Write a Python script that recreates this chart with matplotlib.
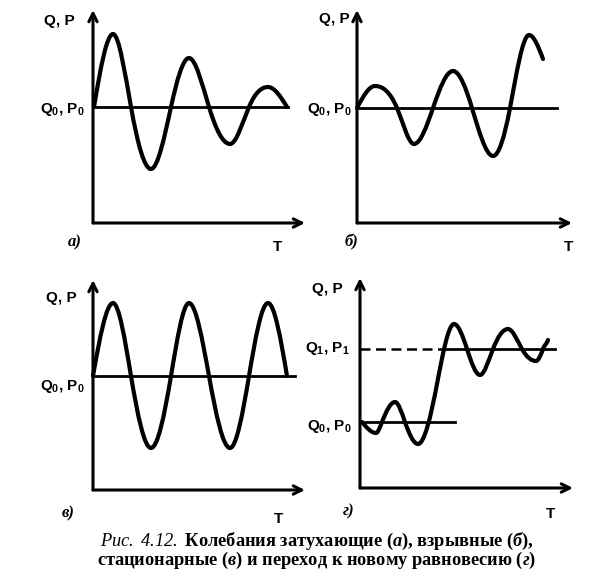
import matplotlib
matplotlib.use("Agg")
import matplotlib.pyplot as plt
import numpy as np
from matplotlib.path import Path
from matplotlib.patches import PathPatch

plt.rcParams['font.family'] = ['Liberation Sans', 'DejaVu Sans']
plt.rcParams['mathtext.fontset'] = 'custom'
plt.rcParams['mathtext.rm'] = 'Liberation Sans:bold'
plt.rcParams['mathtext.it'] = 'Liberation Serif:italic:bold'
plt.rcParams['mathtext.cal'] = 'Liberation Serif:italic'

# опорные точки кривых (экстремумы и пересечения с равновесием), снятые с рисунка
# а) затухающие колебания
t_a = [1, 20, 38, 58, 78, 96, 116, 137, 156, 175, 194]
q_a = [0, 73, 0, -62, 0, 49, 0, -37, 0, 20, 0]
# б) взрывные
t_b = [0, 18, 40, 57, 76, 96, 115, 136, 153, 172, 186]
q_b = [0, 22, 0, -36, 0, 37, 0, -48, 0, 73, 49]
# в) стационарные
t_v = [0, 20, 38, 58, 78, 96, 116, 137, 156, 175, 194]
q_v = [0, 73, 0, -72, 0, 73, 0, -72, 0, 73, 0]
# г) переход к новому равновесию
t_g = [2, 16, 22, 35, 45, 58, 77, 94, 107, 120, 133, 148, 162, 176, 183, 188]
q_g = [0, -11, 0, 20, 0, -22, 38, 98, 73, 47, 73, 93, 73, 61, 73, 82]

q1_level = 73
q0_end_g = 95
q1_dash_end = 83
q1_end = 195
base_end = {'a': 195, 'b': 200, 'v': 202}


def smooth_path(t, q):
    t = np.asarray(t, float)
    q = np.asarray(q, float)
    n = len(t)
    m = np.zeros(n)
    for i in range(n):
        lo, hi = max(i - 1, 0), min(i + 1, n - 1)
        if 0 < i < n - 1 and (q[i] - q[i - 1]) * (q[i + 1] - q[i]) <= 0:
            m[i] = 0.0
        else:
            m[i] = 1.57 * (q[hi] - q[lo]) / (t[hi] - t[lo])
    verts = [(t[0], q[0])]
    codes = [Path.MOVETO]
    for i in range(n - 1):
        h = (t[i + 1] - t[i]) / 3
        verts += [(t[i] + h, q[i] + h * m[i]),
                  (t[i + 1] - h, q[i + 1] - h * m[i + 1]),
                  (t[i + 1], q[i + 1])]
        codes += [Path.CURVE4] * 3
    return Path(verts, codes)


W, H = 612, 587
fig = plt.figure(figsize=(W / 100, H / 100), dpi=100)


def make_ax(L, R, T, B, xmax, ymin, ymax):
    ax = fig.add_axes([L / W, 1 - B / H, (R - L) / W, (B - T) / H])
    ax.set_xlim(0, xmax)
    ax.set_ylim(ymin, ymax)
    ax.axis('off')
    arrow = dict(arrowstyle='->, head_length=0.5, head_width=0.25', lw=2.2,
                 color='black', shrinkA=0, shrinkB=0, mutation_scale=12)
    ax.annotate('', xy=(0, ymax), xytext=(0, ymin), arrowprops=arrow,
                annotation_clip=False)
    ax.annotate('', xy=(xmax, ymin), xytext=(0, ymin), arrowprops=arrow,
                annotation_clip=False)
    return ax


def draw_curve(ax, t, q):
    ax.add_patch(PathPatch(smooth_path(t, q), fill=False, lw=3.0,
                           edgecolor='black', capstyle='round',
                           joinstyle='round', clip_on=False))


lab = dict(fontsize=11, fontweight='bold', va='baseline', clip_on=False)
let = dict(fontsize=12, fontweight='bold', fontstyle='italic',
           family='Liberation Serif', va='baseline', ha='left')

# а)
ax = make_ax(93, 305, 10, 223, 212, -116, 97)
ax.plot([0, base_end['a']], [0, 0], color='black', lw=2.0)
draw_curve(ax, t_a, q_a)
ax.text(-18, 82, 'Q, P', ha='right', **lab)
ax.text(-8, -6, 'Q$_0$, P$_0$', ha='right', **lab)
ax.text(-25, -139, 'а)', **let)
ax.text(180, -144, 'T', ha='left', **lab)

# б)
ax = make_ax(357, 572, 10, 223, 215, -115, 98)
ax.plot([0, base_end['b']], [0, 0], color='black', lw=2.0)
draw_curve(ax, t_b, q_b)
ax.text(-7, 85, 'Q, P', ha='right', **lab)
ax.text(-5, -5, 'Q$_0$, P$_0$', ha='right', **lab)
ax.text(-12, -138, 'б)', **let)
ax.text(207, -143, 'T', ha='left', **lab)

# в)
ax = make_ax(93, 305, 280, 490, 212, -114, 96)
ax.plot([0, base_end['v']], [0, 0], color='black', lw=2.0)
draw_curve(ax, t_v, q_v)
ax.text(-16, 74, 'Q, P', ha='right', **lab)
ax.text(-8, -14, 'Q$_0$, P$_0$', ha='right', **lab)
ax.text(-31, -141, 'в)', **let)
ax.text(181, -147, 'T', ha='left', **lab)

# г)
ax = make_ax(360, 573, 278, 488, 213, -66, 144)
ax.plot([0, q0_end_g], [0, 0], color='black', lw=2.0)
ax.plot([0, q1_dash_end], [q1_level, q1_level], color='black', lw=1.8,
        dashes=(4, 2.2))
ax.plot([q1_dash_end, q1_end], [q1_level, q1_level], color='black', lw=2.0)
draw_curve(ax, t_g, q_g)
ax.text(-17, 129, 'Q, P', ha='right', **lab)
ax.text(-10, 70, 'Q$_1$, P$_1$', ha='right', **lab)
ax.text(-8, -8, 'Q$_0$, P$_0$', ha='right', **lab)
ax.text(-17, -93, 'г)', **let)
ax.text(186, -96, 'T', ha='left', **lab)

caption = (r'$\mathcal{Рис.}$ $\mathcal{4.12.}$ Колебания затухающие ($\mathit{а}$), '
           r'взрывные ($\mathit{б}$),' '\n'
           r'стационарные ($\mathit{в}$) и переход к новому равновесию ($\mathit{г}$)')
fig.text(317 / W, 1 - 551 / H, caption, fontsize=13.2, fontweight='bold',
         family='Liberation Serif', ha='center', va='center',
         multialignment='center', linespacing=0.82)

fig.savefig('out.png', dpi=100, facecolor='white')
